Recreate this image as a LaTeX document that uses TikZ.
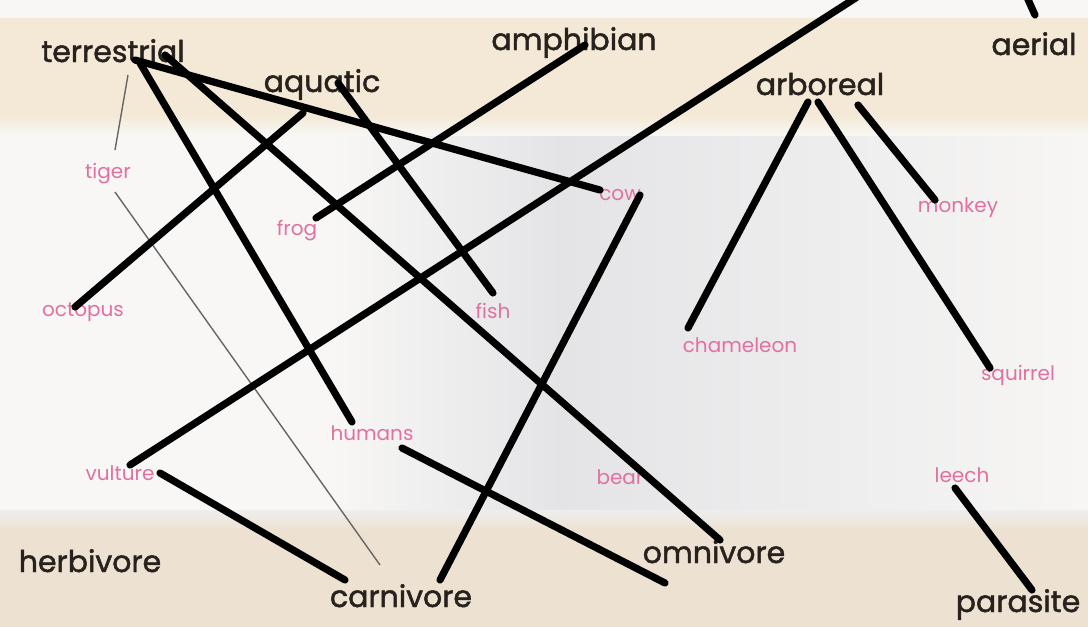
\documentclass[tikz,border=0pt]{standalone}
\usepackage{fontspec}
\setmainfont{Poppins}
\newfontfamily\headfont{Poppins}[FakeBold=1.6]
\begin{document}
\begin{tikzpicture}[x=0.5pt,y=-0.5pt,
  head/.style={anchor=base,text=headc,font=\headfont\fontsize{15}{16}\selectfont,inner sep=0pt},
  animal/.style={anchor=base,text=pinkc,font=\fontsize{10}{12}\selectfont,inner sep=0pt},
  ink/.style={line width=3.6pt,line cap=round,black},
  thin/.style={line width=0.7pt,gray!80!black}]
\definecolor{headc}{RGB}{40,34,30}
\definecolor{pinkc}{RGB}{226,112,160}
\definecolor{bandc}{RGB}{243,233,214}
\definecolor{band2}{RGB}{237,226,209}
\definecolor{midg}{RGB}{228,228,231}
\definecolor{paper}{RGB}{248,247,245}
\useasboundingbox (0,0) rectangle (1088,627);
\begin{scope}
\clip (0,0) rectangle (1088,627);
\fill[paper] (0,0) rectangle (1088,627);
\shade[left color=paper,right color=midg] (330,125) rectangle (560,520);
\shade[left color=midg,right color=paper!95!midg] (560,125) rectangle (1088,520);
\fill[bandc] (0,18) rectangle (1088,115);
\shade[top color=bandc,bottom color=paper] (0,115) rectangle (1088,135);
\shade[top color=paper!50!midg,bottom color=band2] (0,510) rectangle (1088,530);
\fill[band2] (0,530) rectangle (1088,627);

% headings
\node[head] (terrestrial) at (113,62) {terrestrial};
\node[head] (aquatic) at (322,92) {aquatic};
\node[head] (amphibian) at (574,50) {amphibian};
\node[head] (aerial) at (1034,55) {aerial};
\node[head] (arboreal) at (820,95) {arboreal};
\node[head] (herbivore) at (90,572) {herbivore};
\node[head] (carnivore) at (401,607) {carnivore};
\node[head] (omnivore) at (714,563) {omnivore};
\node[head] (parasite) at (1018,612) {parasite};
% animals
\node[animal] (tiger) at (108,178) {tiger};
\node[animal] (frog) at (297,235) {frog};
\node[animal] (cow) at (620,200) {cow};
\node[animal] (monkey) at (958,212) {monkey};
\node[animal] (octopus) at (83,316) {octopus};
\node[animal] (fish) at (493,318) {fish};
\node[animal] (chameleon) at (740,352) {chameleon};
\node[animal] (squirrel) at (1018,380) {squirrel};
\node[animal] (humans) at (372,440) {humans};
\node[animal] (vulture) at (120,480) {vulture};
\node[animal] (bear) at (620,484) {bear};
\node[animal] (leech) at (962,482) {leech};

% connector ends
\coordinate (terrestrial-a) at (135,60);
\coordinate (terrestrial-b) at (140,63);
\coordinate (terrestrial-c) at (165,55);
\coordinate (terrestrial-d) at (128,75);
\coordinate (cow-a) at (600,190);
\coordinate (cow-b) at (640,195);
\coordinate (humans-a) at (352,422);
\coordinate (humans-b) at (402,448);
\coordinate (omnivore-a) at (720,540);
\coordinate (omnivore-b) at (665,583);
\coordinate (tiger-a) at (115,150);
\coordinate (tiger-b) at (115,192);
\coordinate (carnivore-a) at (380,565);
\coordinate (carnivore-b) at (440,580);
\coordinate (carnivore-c) at (345,580);
\coordinate (aquatic-a) at (303,113);
\coordinate (aquatic-b) at (338,83);
\coordinate (octopus-a) at (75,307);
\coordinate (fish-a) at (493,293);
\coordinate (amphibian-a) at (585,45);
\coordinate (frog-a) at (316,218);
\coordinate (vulture-a) at (130,465);
\coordinate (vulture-b) at (160,473);
\coordinate (offtop) at (868,-10);
\coordinate (aerial-a) at (1035,15);
\coordinate (aerial-top) at (1026,-5);
\coordinate (arboreal-a) at (808,102);
\coordinate (arboreal-b) at (818,102);
\coordinate (arboreal-c) at (858,105);
\coordinate (chameleon-a) at (688,328);
\coordinate (squirrel-a) at (990,368);
\coordinate (monkey-a) at (935,200);
\coordinate (leech-a) at (955,488);
\coordinate (parasite-a) at (1032,590);

% thin printed lines
\draw[thin] (terrestrial-d) -- (tiger-a);
\draw[thin] (tiger-b) -- (carnivore-a);
% hand drawn lines
\draw[ink] (terrestrial-a) -- (cow-a);
\draw[ink] (terrestrial-b) -- (humans-a);
\draw[ink] (terrestrial-c) -- (omnivore-a);
\draw[ink] (aquatic-a) -- (octopus-a);
\draw[ink] (aquatic-b) -- (fish-a);
\draw[ink] (amphibian-a) -- (frog-a);
\draw[ink] (vulture-a) -- (offtop);
\draw[ink] (aerial-top) -- (aerial-a);
\draw[ink] (cow-b) -- (carnivore-b);
\draw[ink] (arboreal-a) -- (chameleon-a);
\draw[ink] (arboreal-b) -- (squirrel-a);
\draw[ink] (arboreal-c) -- (monkey-a);
\draw[ink] (humans-b) -- (omnivore-b);
\draw[ink] (vulture-b) -- (carnivore-c);
\draw[ink] (leech-a) -- (parasite-a);
\end{scope}
\end{tikzpicture}
\end{document}
